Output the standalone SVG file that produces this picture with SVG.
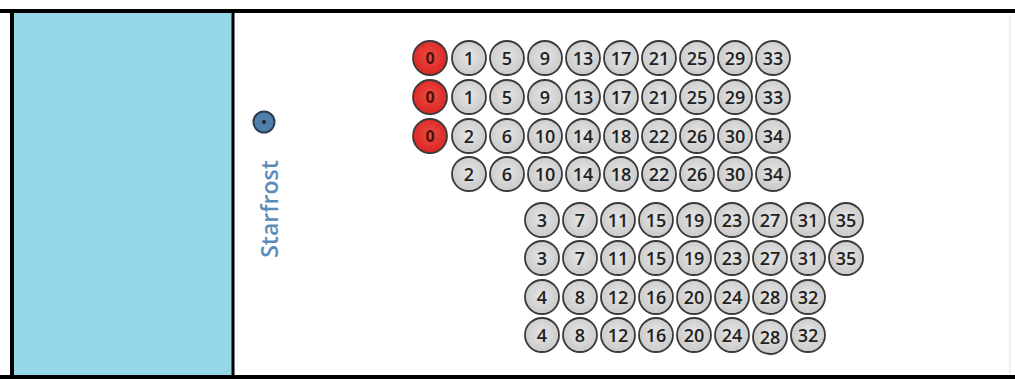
<svg xmlns="http://www.w3.org/2000/svg" width="1015" height="379" viewBox="0 0 1015 379">
<defs>
<radialGradient id="g" cx="50%" cy="45%" r="55%"><stop offset="0" stop-color="#e6e6e6"/><stop offset="1" stop-color="#c9c9c9"/></radialGradient>
<radialGradient id="r" cx="50%" cy="45%" r="55%"><stop offset="0" stop-color="#f04a44"/><stop offset="1" stop-color="#d92622"/></radialGradient>
<style>
.c{fill:url(#g);stroke:#3a3a3a;stroke-width:1.8}
.z{fill:url(#r);stroke:#3a3a3a;stroke-width:1.8}
.t{font-family:"Open Sans","Liberation Sans",sans-serif;font-size:18px;font-weight:600;fill:#222;text-anchor:middle;dominant-baseline:central}
.tz{font-family:"Open Sans","Liberation Sans",sans-serif;font-size:16px;fill:#4a1208;text-anchor:middle;dominant-baseline:central;font-weight:bold}
</style>
</defs>
<rect x="0" y="0" width="1015" height="379" fill="#ffffff"/>
<g id="panel">
<rect x="14" y="13" width="218" height="362" fill="#95d6e7"/>
<line x1="1010" y1="15" x2="1010" y2="374" stroke="#eeeeee" stroke-width="2"/>
<line x1="0" y1="11" x2="1015" y2="11" stroke="#000" stroke-width="4"/>
<line x1="0" y1="377" x2="1015" y2="377" stroke="#000" stroke-width="4"/>
<line x1="12" y1="9" x2="12" y2="379" stroke="#000" stroke-width="4"/>
<line x1="233" y1="11" x2="233" y2="377" stroke="#000" stroke-width="3"/>
</g>
<g id="starfrost">
<circle cx="264" cy="122" r="10.5" fill="#4f7fab" stroke="#2a3d55" stroke-width="2"/>
<circle cx="264" cy="122" r="2" fill="#1a2a40"/>
<text x="0" y="0" transform="translate(278,209) rotate(-90)" font-family="'Open Sans','Liberation Sans',sans-serif" font-size="23" font-weight="600" fill="#5b8cb8" text-anchor="middle">Starfrost</text>
</g>
<g id="seats-top">
<g id="r1"><circle class="z" cx="430" cy="58" r="17"/><text class="tz" x="430" y="58">0</text>
<circle class="c" cx="469" cy="58" r="17"/><text class="t" x="469" y="58">1</text>
<circle class="c" cx="507" cy="58" r="17"/><text class="t" x="507" y="58">5</text>
<circle class="c" cx="545" cy="58" r="17"/><text class="t" x="545" y="58">9</text>
<circle class="c" cx="583" cy="58" r="17"/><text class="t" x="583" y="58">13</text>
<circle class="c" cx="621" cy="58" r="17"/><text class="t" x="621" y="58">17</text>
<circle class="c" cx="659" cy="58" r="17"/><text class="t" x="659" y="58">21</text>
<circle class="c" cx="697" cy="58" r="17"/><text class="t" x="697" y="58">25</text>
<circle class="c" cx="735" cy="58" r="17"/><text class="t" x="735" y="58">29</text>
<circle class="c" cx="773" cy="58" r="17"/><text class="t" x="773" y="58">33</text></g>
<g id="r2"><circle class="z" cx="430" cy="97" r="17"/><text class="tz" x="430" y="97">0</text>
<circle class="c" cx="469" cy="97" r="17"/><text class="t" x="469" y="97">1</text>
<circle class="c" cx="507" cy="97" r="17"/><text class="t" x="507" y="97">5</text>
<circle class="c" cx="545" cy="97" r="17"/><text class="t" x="545" y="97">9</text>
<circle class="c" cx="583" cy="97" r="17"/><text class="t" x="583" y="97">13</text>
<circle class="c" cx="621" cy="97" r="17"/><text class="t" x="621" y="97">17</text>
<circle class="c" cx="659" cy="97" r="17"/><text class="t" x="659" y="97">21</text>
<circle class="c" cx="697" cy="97" r="17"/><text class="t" x="697" y="97">25</text>
<circle class="c" cx="735" cy="97" r="17"/><text class="t" x="735" y="97">29</text>
<circle class="c" cx="773" cy="97" r="17"/><text class="t" x="773" y="97">33</text></g>
<g id="r3"><circle class="z" cx="430" cy="136" r="17"/><text class="tz" x="430" y="136">0</text>
<circle class="c" cx="469" cy="136" r="17"/><text class="t" x="469" y="136">2</text>
<circle class="c" cx="507" cy="136" r="17"/><text class="t" x="507" y="136">6</text>
<circle class="c" cx="545" cy="136" r="17"/><text class="t" x="545" y="136">10</text>
<circle class="c" cx="583" cy="136" r="17"/><text class="t" x="583" y="136">14</text>
<circle class="c" cx="621" cy="136" r="17"/><text class="t" x="621" y="136">18</text>
<circle class="c" cx="659" cy="136" r="17"/><text class="t" x="659" y="136">22</text>
<circle class="c" cx="697" cy="136" r="17"/><text class="t" x="697" y="136">26</text>
<circle class="c" cx="735" cy="136" r="17"/><text class="t" x="735" y="136">30</text>
<circle class="c" cx="773" cy="136" r="17"/><text class="t" x="773" y="136">34</text></g>
<g id="r4">
<circle class="c" cx="469" cy="174" r="17"/><text class="t" x="469" y="174">2</text>
<circle class="c" cx="507" cy="174" r="17"/><text class="t" x="507" y="174">6</text>
<circle class="c" cx="545" cy="174" r="17"/><text class="t" x="545" y="174">10</text>
<circle class="c" cx="583" cy="174" r="17"/><text class="t" x="583" y="174">14</text>
<circle class="c" cx="621" cy="174" r="17"/><text class="t" x="621" y="174">18</text>
<circle class="c" cx="659" cy="174" r="17"/><text class="t" x="659" y="174">22</text>
<circle class="c" cx="697" cy="174" r="17"/><text class="t" x="697" y="174">26</text>
<circle class="c" cx="735" cy="174" r="17"/><text class="t" x="735" y="174">30</text>
<circle class="c" cx="773" cy="174" r="17"/><text class="t" x="773" y="174">34</text></g>
</g>
<g id="seats-bottom">
<g id="r5">
<circle class="c" cx="542" cy="220" r="17"/><text class="t" x="542" y="220">3</text>
<circle class="c" cx="580" cy="220" r="17"/><text class="t" x="580" y="220">7</text>
<circle class="c" cx="618" cy="220" r="17"/><text class="t" x="618" y="220">11</text>
<circle class="c" cx="656" cy="220" r="17"/><text class="t" x="656" y="220">15</text>
<circle class="c" cx="694" cy="220" r="17"/><text class="t" x="694" y="220">19</text>
<circle class="c" cx="732" cy="220" r="17"/><text class="t" x="732" y="220">23</text>
<circle class="c" cx="770" cy="220" r="17"/><text class="t" x="770" y="220">27</text>
<circle class="c" cx="808" cy="220" r="17"/><text class="t" x="808" y="220">31</text>
<circle class="c" cx="846" cy="220" r="17"/><text class="t" x="846" y="220">35</text></g>
<g id="r6">
<circle class="c" cx="542" cy="258" r="17"/><text class="t" x="542" y="258">3</text>
<circle class="c" cx="580" cy="258" r="17"/><text class="t" x="580" y="258">7</text>
<circle class="c" cx="618" cy="258" r="17"/><text class="t" x="618" y="258">11</text>
<circle class="c" cx="656" cy="258" r="17"/><text class="t" x="656" y="258">15</text>
<circle class="c" cx="694" cy="258" r="17"/><text class="t" x="694" y="258">19</text>
<circle class="c" cx="732" cy="258" r="17"/><text class="t" x="732" y="258">23</text>
<circle class="c" cx="770" cy="258" r="17"/><text class="t" x="770" y="258">27</text>
<circle class="c" cx="808" cy="258" r="17"/><text class="t" x="808" y="258">31</text>
<circle class="c" cx="846" cy="258" r="17"/><text class="t" x="846" y="258">35</text></g>
<g id="r7">
<circle class="c" cx="542" cy="297" r="17"/><text class="t" x="542" y="297">4</text>
<circle class="c" cx="580" cy="297" r="17"/><text class="t" x="580" y="297">8</text>
<circle class="c" cx="618" cy="297" r="17"/><text class="t" x="618" y="297">12</text>
<circle class="c" cx="656" cy="297" r="17"/><text class="t" x="656" y="297">16</text>
<circle class="c" cx="694" cy="297" r="17"/><text class="t" x="694" y="297">20</text>
<circle class="c" cx="732" cy="297" r="17"/><text class="t" x="732" y="297">24</text>
<circle class="c" cx="770" cy="297" r="17"/><text class="t" x="770" y="297">28</text>
<circle class="c" cx="808" cy="297" r="17"/><text class="t" x="808" y="297">32</text></g>
<g id="r8">
<circle class="c" cx="542" cy="335" r="17"/><text class="t" x="542" y="335">4</text>
<circle class="c" cx="580" cy="335" r="17"/><text class="t" x="580" y="335">8</text>
<circle class="c" cx="618" cy="335" r="17"/><text class="t" x="618" y="335">12</text>
<circle class="c" cx="656" cy="335" r="17"/><text class="t" x="656" y="335">16</text>
<circle class="c" cx="694" cy="335" r="17"/><text class="t" x="694" y="335">20</text>
<circle class="c" cx="732" cy="335" r="17"/><text class="t" x="732" y="335">24</text>
<circle class="c" cx="770" cy="337" r="17"/><text class="t" x="770" y="337">28</text>
<circle class="c" cx="808" cy="335" r="17"/><text class="t" x="808" y="335">32</text></g>
</g>
</svg>
